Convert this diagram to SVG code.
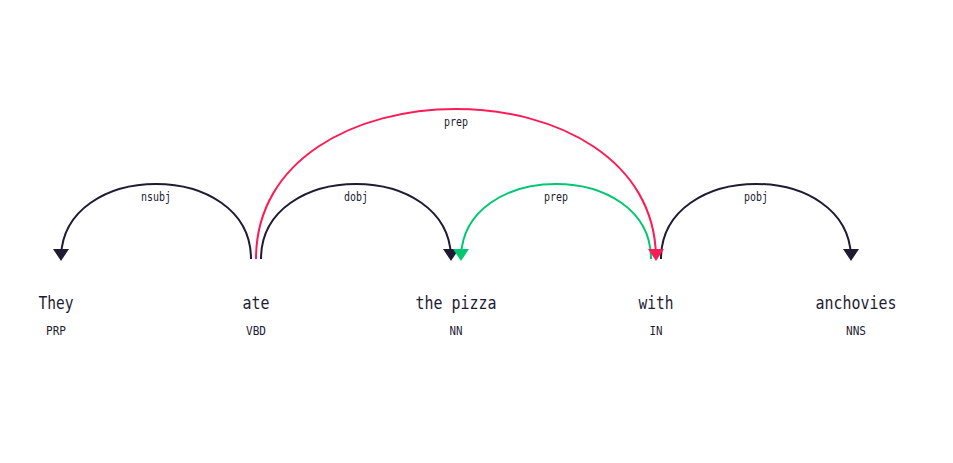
<svg xmlns="http://www.w3.org/2000/svg" width="953" height="463" viewBox="0 0 953 463">
<style>
.bg{fill:#ffffff}
.word{font-family:"DejaVu Sans Mono","Liberation Mono",monospace;font-size:18px;fill:#1e1b33;text-anchor:middle}
.tag{font-family:"DejaVu Sans Mono","Liberation Mono",monospace;font-size:12.5px;fill:#1e1b33;text-anchor:middle}
.lab{font-family:"DejaVu Sans Mono","Liberation Mono",monospace;font-size:12px;fill:#1e1b33;text-anchor:middle}
.arc{fill:none;stroke-width:2}
.dark{stroke:#1e1b33}
.red{stroke:#fc1c55}
.green{stroke:#00c870}
.hd{fill:#1e1b33}
.hr{fill:#fc1c55}
.hg{fill:#00c870}
</style>
<rect class="bg" x="0" y="0" width="953" height="463"/>
<g id="connectors">
  <g id="arc-nsubj">
    <path class="arc dark" d="M251,259 C251,159 61,159 61,259"/>
    <path class="hd" d="M61,261 L53,249 L69,249 Z"/>
    <text class="lab" x="156" y="201" textLength="30" lengthAdjust="spacingAndGlyphs">nsubj</text>
  </g>
  <g id="arc-dobj">
    <path class="arc dark" d="M261,259 C261,159 451,159 451,259"/>
    <path class="hd" d="M451,261 L443,249 L459,249 Z"/>
    <text class="lab" x="356" y="201" textLength="24" lengthAdjust="spacingAndGlyphs">dobj</text>
  </g>
  <g id="arc-prep-ate">
    <path class="arc red" d="M256,259 C256,59 656,59 656,259"/>
  </g>
  <g id="arc-prep-with">
    <path class="arc green" d="M651,259 C651,159 461,159 461,259"/>
    <path class="hg" d="M461,261 L453,249 L469,249 Z"/>
    <text class="lab" x="556" y="201" textLength="24" lengthAdjust="spacingAndGlyphs">prep</text>
  </g>
  <g id="arc-pobj">
    <path class="arc dark" d="M661,259 C661,159 851,159 851,259"/>
    <path class="hd" d="M851,261 L843,249 L859,249 Z"/>
    <text class="lab" x="756" y="201" textLength="24" lengthAdjust="spacingAndGlyphs">pobj</text>
  </g>
  <g id="arc-prep-ate-head">
    <path class="hr" d="M656,261 L648,249 L664,249 Z"/>
    <text class="lab" x="456" y="126" textLength="24" lengthAdjust="spacingAndGlyphs">prep</text>
  </g>
</g>
<g id="node-they">
  <text class="word" x="56" y="309" textLength="35" lengthAdjust="spacingAndGlyphs">They</text>
  <text class="tag" x="56" y="335" textLength="20" lengthAdjust="spacingAndGlyphs">PRP</text>
</g>
<g id="node-ate">
  <text class="word" x="256" y="309" textLength="27" lengthAdjust="spacingAndGlyphs">ate</text>
  <text class="tag" x="256" y="335" textLength="20" lengthAdjust="spacingAndGlyphs">VBD</text>
</g>
<g id="node-the-pizza">
  <text class="word" x="456" y="309" textLength="81" lengthAdjust="spacingAndGlyphs">the pizza</text>
  <text class="tag" x="456" y="335" textLength="13" lengthAdjust="spacingAndGlyphs">NN</text>
</g>
<g id="node-with">
  <text class="word" x="656" y="309" textLength="35" lengthAdjust="spacingAndGlyphs">with</text>
  <text class="tag" x="656" y="335" textLength="13" lengthAdjust="spacingAndGlyphs">IN</text>
</g>
<g id="node-anchovies">
  <text class="word" x="856" y="309" textLength="81" lengthAdjust="spacingAndGlyphs">anchovies</text>
  <text class="tag" x="856" y="335" textLength="20" lengthAdjust="spacingAndGlyphs">NNS</text>
</g>
</svg>
